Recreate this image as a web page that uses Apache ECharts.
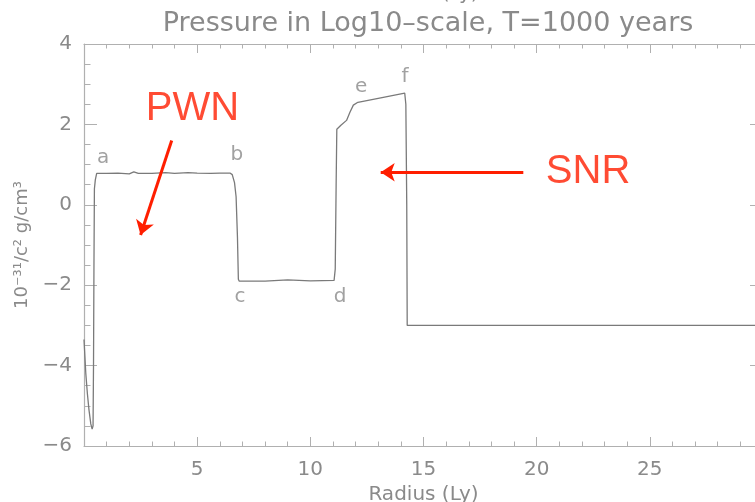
<!DOCTYPE html>
<html>
<head>
<meta charset="utf-8">
<script src="https://cdn.jsdelivr.net/npm/echarts@6/dist/echarts.min.js"></script>
<style>
  html, body { margin: 0; padding: 0; background: #fff; }
  #chart { width: 755px; height: 502px; }
</style>
</head>
<body>
<div id="chart"></div>
<script>
// radius (Ly) and log10 pressure
const radius = [0.0, 0.08, 0.15, 0.22, 0.3, 0.36, 0.40, 0.42, 0.44, 0.46, 0.50, 0.56,
    1.0, 1.5, 2.0, 2.2, 2.4, 3.0, 3.6, 4.0, 4.6, 5.0, 5.6, 6.0, 6.45, 6.55, 6.65, 6.72, 6.78, 6.82, 6.86,
    8.0, 9.0, 10.0, 11.05, 11.1, 11.14, 11.17, 11.35, 11.6, 11.75, 11.9, 12.1, 13.0, 14.17,
    14.22, 14.26, 14.28, 20.0, 30.0];
const logPressure = [-3.35, -4.2, -4.7, -5.1, -5.45, -5.58, -5.5, -4.0, -1.5, 0.4, 0.62, 0.78,
    0.78, 0.79, 0.77, 0.82, 0.78, 0.78, 0.80, 0.78, 0.80, 0.79, 0.78, 0.79, 0.79, 0.75, 0.55, 0.2, -0.8, -1.85, -1.9,
    -1.9, -1.87, -1.89, -1.88, -1.6, 0.5, 1.88, 1.98, 2.1, 2.3, 2.48, 2.55, 2.65, 2.78,
    2.5, 0.0, -3.0, -3.0, -3.0];

// point labels a..f
const pointNames = ['a', 'b', 'c', 'd', 'e', 'f'];
const pointX = [0.84, 6.75, 6.89, 11.31, 12.24, 14.18];
const pointY = [1.17, 1.24, -2.28, -2.28, 2.94, 3.19];

// red annotations
const regionNames = ['PWN', 'SNR'];
const regionX = [4.79, 22.27];
const regionY = [2.39, 0.82];
const arrowFrom = [[3.875, 1.6], [19.41, 0.81]];
const arrowTo = [[2.5, -0.75], [13.11, 0.81]];

const xTicks = [5, 10, 15, 20, 25];

const grey = '#8a8a8a';
const axisGrey = '#b0b0b0';
const red = '#ff1e00';
const font = 'DejaVu Sans';

const chart = echarts.init(document.getElementById('chart'));

const xBase = {
    type: 'value', min: 0, max: 30, interval: 5,
    axisLine: { onZero: false, lineStyle: { color: axisGrey, width: 1.2 } },
    axisTick: { inside: true, length: 9, lineStyle: { color: axisGrey } },
    minorTick: { show: true, splitNumber: 5, length: 4.5, lineStyle: { color: axisGrey } },
    splitLine: { show: false },
    name: 'Radius (Ly)',
    nameLocation: 'middle',
    nameTextStyle: { color: grey, fontFamily: font, fontSize: 20 }
};
const yBase = {
    type: 'value', min: -6, max: 4, interval: 2,
    axisLine: { onZero: false, lineStyle: { color: axisGrey, width: 1.2 } },
    axisTick: { inside: true, length: 13, lineStyle: { color: axisGrey } },
    minorTick: { show: true, splitNumber: 4, length: 6.5, lineStyle: { color: axisGrey } },
    splitLine: { show: false }
};

const option = {
    animation: false,
    backgroundColor: '#fff',
    title: {
        text: 'Pressure in Log10\u2013scale, T=1000 years',
        left: 423, top: 5, textAlign: 'center',
        textStyle: { color: grey, fontFamily: font, fontSize: 27, fontWeight: 'normal' }
    },
    grid: {
        left: 84, right: -8, top: 44, bottom: 56,
        containLabel: false, outerBoundsMode: 'none'
    },
    xAxis: [
        Object.assign({}, xBase, {
            position: 'bottom', nameGap: 36,
            axisLabel: {
                color: grey, fontFamily: font, fontSize: 20, margin: 14,
                formatter: v => xTicks.includes(v) ? String(v) : ''
            }
        }),
        Object.assign({}, xBase, {
            position: 'top', nameGap: 40,
            axisLabel: { show: false }
        })
    ],
    yAxis: [
        Object.assign({}, yBase, {
            position: 'left',
            name: '10\u207B\u00B3\u00B9/c\u00B2 g/cm\u00B3',
            nameLocation: 'middle', nameGap: 46,
            nameTextStyle: { color: grey, fontFamily: font, fontSize: 18 },
            axisLabel: {
                color: grey, fontFamily: font, fontSize: 20, margin: 12,
                formatter: v => String(v).replace('-', '\u2212')
            }
        }),
        Object.assign({}, yBase, { position: 'right', axisLabel: { show: false } })
    ],
    series: [
        {
            type: 'line',
            data: radius.map((r, i) => [r, logPressure[i]]),
            symbol: 'none',
            lineStyle: { color: '#7a7a7a', width: 1.3 },
            markLine: {
                silent: true,
                symbol: ['none', 'arrow'],
                symbolSize: [14, 14],
                label: { show: false },
                lineStyle: { color: red, width: 3, type: 'solid' },
                data: arrowFrom.map((p, i) => [{ coord: p }, { coord: arrowTo[i] }])
            }
        },
        {
            type: 'scatter',
            data: pointX.map((x, i) => [x, pointY[i], pointNames[i]]),
            symbolSize: 0,
            label: {
                show: true, position: 'inside',
                formatter: p => p.data[2],
                color: grey, fontFamily: font, fontSize: 20
            }
        },
        {
            type: 'scatter',
            data: regionX.map((x, i) => [x, regionY[i], regionNames[i]]),
            symbolSize: 0,
            label: {
                show: true, position: 'inside',
                formatter: p => p.data[2],
                color: red, fontFamily: 'Liberation Sans', fontSize: 40,
                textBorderWidth: 0
            }
        }
    ]
};
chart.setOption(option);
</script>
</body>
</html>
